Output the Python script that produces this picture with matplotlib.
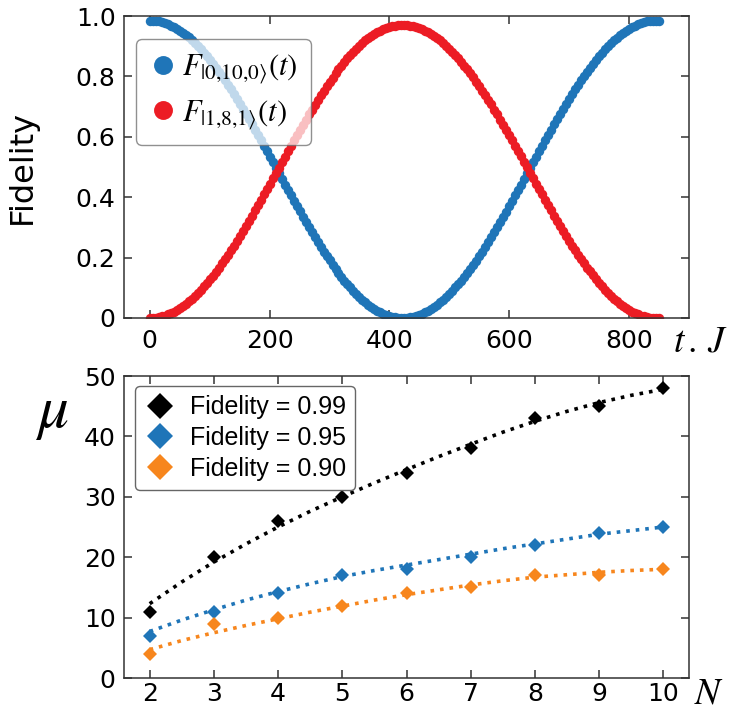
import matplotlib
matplotlib.use("Agg")
import matplotlib.pyplot as plt
import numpy as np

plt.rcParams['mathtext.fontset'] = 'stix'
plt.rcParams['font.family'] = ['DejaVu Sans']

# ---------------- data: top panel ----------------
t_vals = np.arange(0, 851, 5)
F_0100 = [0.985, 0.985, 0.984, 0.982, 0.980, 0.977, 0.973, 0.968, 0.963, 0.958,
          0.951, 0.944, 0.937, 0.929, 0.920, 0.910, 0.900, 0.890, 0.879, 0.867,
          0.855, 0.842, 0.829, 0.816, 0.802, 0.787, 0.772, 0.757, 0.741, 0.725,
          0.709, 0.693, 0.676, 0.659, 0.641, 0.624, 0.606, 0.588, 0.570, 0.552,
          0.534, 0.515, 0.497, 0.479, 0.461, 0.442, 0.424, 0.406, 0.388, 0.370,
          0.353, 0.335, 0.318, 0.301, 0.284, 0.268, 0.252, 0.236, 0.220, 0.205,
          0.191, 0.177, 0.163, 0.149, 0.136, 0.124, 0.112, 0.101, 0.090, 0.080,
          0.070, 0.061, 0.052, 0.044, 0.037, 0.030, 0.024, 0.019, 0.014, 0.010,
          0.007, 0.004, 0.002, 0.001, 0.000, 0.000, 0.001, 0.002, 0.004, 0.007,
          0.010, 0.014, 0.019, 0.024, 0.030, 0.037, 0.044, 0.052, 0.061, 0.070,
          0.079, 0.090, 0.101, 0.112, 0.124, 0.136, 0.149, 0.162, 0.176, 0.190,
          0.205, 0.220, 0.236, 0.251, 0.267, 0.284, 0.301, 0.318, 0.335, 0.352,
          0.370, 0.388, 0.406, 0.424, 0.442, 0.460, 0.479, 0.497, 0.515, 0.533,
          0.552, 0.570, 0.588, 0.606, 0.623, 0.641, 0.658, 0.675, 0.692, 0.709,
          0.725, 0.741, 0.757, 0.772, 0.787, 0.801, 0.815, 0.829, 0.842, 0.855,
          0.867, 0.879, 0.890, 0.900, 0.910, 0.920, 0.928, 0.937, 0.944, 0.951,
          0.958, 0.963, 0.968, 0.973, 0.976, 0.980, 0.982, 0.984, 0.985, 0.985,
          0.985]
F_181 = [0.000, 0.000, 0.001, 0.003, 0.005, 0.008, 0.012, 0.016, 0.021, 0.027,
         0.033, 0.040, 0.047, 0.056, 0.064, 0.073, 0.083, 0.094, 0.105, 0.116,
         0.128, 0.140, 0.153, 0.167, 0.181, 0.195, 0.209, 0.224, 0.240, 0.256,
         0.272, 0.288, 0.305, 0.321, 0.338, 0.356, 0.373, 0.391, 0.409, 0.426,
         0.444, 0.462, 0.480, 0.498, 0.516, 0.534, 0.552, 0.570, 0.588, 0.605,
         0.623, 0.640, 0.657, 0.674, 0.690, 0.706, 0.722, 0.738, 0.753, 0.768,
         0.782, 0.796, 0.810, 0.823, 0.836, 0.848, 0.860, 0.871, 0.881, 0.892,
         0.901, 0.910, 0.919, 0.926, 0.933, 0.940, 0.946, 0.951, 0.956, 0.960,
         0.963, 0.966, 0.968, 0.969, 0.970, 0.970, 0.969, 0.968, 0.966, 0.963,
         0.960, 0.956, 0.951, 0.946, 0.940, 0.934, 0.926, 0.919, 0.910, 0.901,
         0.892, 0.882, 0.871, 0.860, 0.848, 0.836, 0.823, 0.810, 0.797, 0.783,
         0.768, 0.753, 0.738, 0.722, 0.707, 0.690, 0.674, 0.657, 0.640, 0.623,
         0.606, 0.588, 0.570, 0.553, 0.535, 0.517, 0.499, 0.481, 0.463, 0.445,
         0.427, 0.409, 0.391, 0.374, 0.356, 0.339, 0.322, 0.305, 0.288, 0.272,
         0.256, 0.240, 0.225, 0.210, 0.195, 0.181, 0.167, 0.154, 0.141, 0.128,
         0.116, 0.105, 0.094, 0.083, 0.074, 0.064, 0.056, 0.048, 0.040, 0.033,
         0.027, 0.021, 0.016, 0.012, 0.008, 0.005, 0.003, 0.001, 0.000, 0.000,
         0.000]
top_xticks = [0, 200, 400, 600, 800]
top_yticks = [0, 0.2, 0.4, 0.6, 0.8, 1.0]
top_yticklabels = ['0', '0.2', '0.4', '0.6', '0.8', '1.0']

# ---------------- data: bottom panel ----------------
N_vals = [2, 3, 4, 5, 6, 7, 8, 9, 10]
mu_099 = [11, 20, 26, 30, 34, 38, 43, 45, 48]
mu_095 = [7, 11, 14, 17, 18, 20, 22, 24, 25]
mu_090 = [4, 9, 10, 12, 14, 15, 17, 17, 18]
N_fit = [2, 2.5, 3, 3.5, 4, 4.5, 5, 5.5, 6, 6.5, 7, 7.5, 8, 8.5, 9, 9.5, 10]
fit_099 = [12.3, 15.9, 19.2, 22.2, 25.0, 27.6, 30.0, 32.3, 34.5, 36.65, 38.7,
           40.7, 42.5, 44.15, 45.6, 46.8, 47.8]
fit_095 = [7.7, 9.6, 11.3, 12.9, 14.3, 15.6, 16.8, 17.8, 18.7, 19.6, 20.5,
           21.4, 22.2, 23.0, 23.8, 24.4, 25.0]
fit_090 = [4.7, 6.2, 7.5, 8.7, 9.8, 10.9, 11.9, 12.9, 13.8, 14.6, 15.4,
           16.1, 16.7, 17.1, 17.5, 17.8, 18.0]
bot_yticks = [0, 10, 20, 30, 40, 50]

BLUE = '#1f75b8'
RED = '#ec1c24'
ORANGE = '#f7861d'
BLACK = '#000000'
SPINE = '#333333'

fig = plt.figure(figsize=(7.31, 7.13), dpi=100)
ax1 = fig.add_axes([124/731, 1-318/713, 565/731, 302/713])
ax2 = fig.add_axes([124/731, 1-678/713, 565/731, 302/713])

# top panel
ax1.plot(t_vals, F_0100, 'o', color=BLUE, ms=6.8, mew=0,
         label=r'$F_{|0{,}10{,}0\rangle}(t)$')
ax1.plot(t_vals, F_181, 'o', color=RED, ms=6.8, mew=0,
         label=r'$F_{|1{,}8{,}1\rangle}(t)$')
ax1.set_xlim(-43, 900)
ax1.set_ylim(0, 1)
ax1.set_xticks(top_xticks)
ax1.set_yticks(top_yticks)
ax1.set_yticklabels(top_yticklabels)
ax1.set_ylabel('Fidelity', fontsize=23)
ax1.yaxis.set_label_coords(-0.152, 0.5)
leg1 = ax1.legend(loc='upper left', bbox_to_anchor=(0.021, 0.924),
                  borderaxespad=0, prop={'size': 22}, markerscale=2.0,
                  handlelength=0.85, handletextpad=0.2, labelspacing=0.38,
                  borderpad=0.45, fancybox=True, framealpha=0.72,
                  edgecolor='#666666')
leg1.get_frame().set_linewidth(1.0)

# bottom panel
for yv, fv, col, lab in [(mu_099, fit_099, BLACK, 'Fidelity = 0.99'),
                         (mu_095, fit_095, BLUE, 'Fidelity = 0.95'),
                         (mu_090, fit_090, ORANGE, 'Fidelity = 0.90')]:
    ax2.plot(N_fit, fv, linestyle=':', color=col, lw=2.6)
    ax2.plot(N_vals, yv, 'D', color=col, ms=7.5, mew=0, label=lab)
ax2.set_xlim(1.6, 10.4)
ax2.set_ylim(0, 50)
ax2.set_xticks(N_vals)
ax2.set_yticks(bot_yticks)
leg2 = ax2.legend(loc='upper left', bbox_to_anchor=(0.0195, 0.967),
                  borderaxespad=0, prop={'family': 'Liberation Sans', 'size': 18},
                  markerscale=1.75, handlelength=1.2, handletextpad=0.6,
                  labelspacing=0.27, borderpad=0.38, fancybox=True,
                  framealpha=1.0, edgecolor='#666666')
leg2.get_frame().set_linewidth(1.0)

for ax in (ax1, ax2):
    ax.tick_params(direction='in', top=True, right=True, length=6, width=1.1,
                   labelsize=18, color=SPINE)
    for s in ax.spines.values():
        s.set_color(SPINE)
        s.set_linewidth(1.1)
ax1.tick_params(axis='x', pad=8)
ax1.tick_params(axis='y', pad=6)
ax2.tick_params(axis='x', pad=3)
ax2.tick_params(axis='y', pad=6)

fig.text(52/731, 1-413/713, r'$\mu$', fontsize=44, ha='center', va='center')
fig.text(700/731, 1-341/713, r'$t\,.\,J$', fontsize=27, ha='center', va='center')
fig.text(709/731, 1-694/713, r'$N$', fontsize=27, ha='center', va='center')

fig.savefig('out.png', dpi=100)
